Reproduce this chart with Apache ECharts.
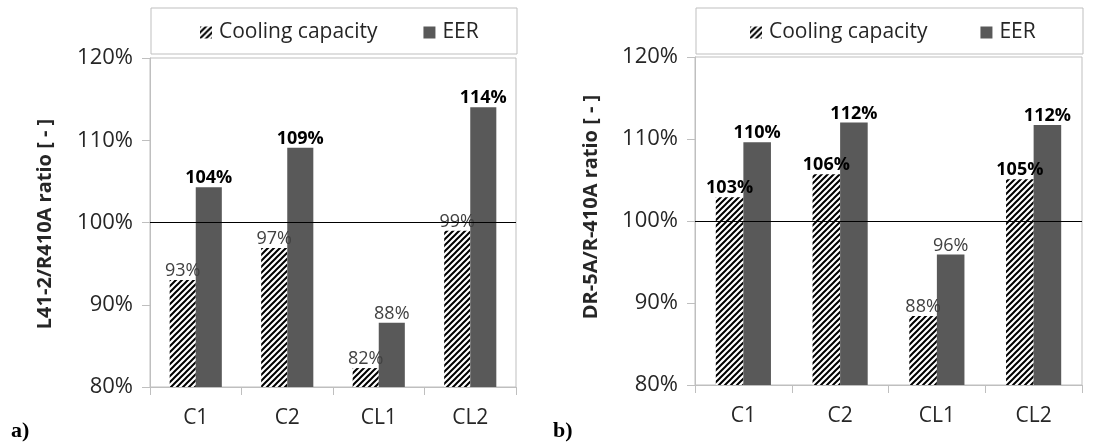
<!DOCTYPE html>
<html>
<head>
<meta charset="utf-8">
<script src="https://cdn.jsdelivr.net/npm/echarts@6/dist/echarts.min.js"></script>
<style>
html,body{margin:0;padding:0;background:#fff;}
#chart{width:1095px;height:442px;}
</style>
</head>
<body>
<div id="chart"></div>
<script>
// ---- data ----
const categories = ['C1', 'C2', 'CL1', 'CL2'];
const seriesNames = ['Cooling capacity', 'EER'];
const coolingA = [93.0, 96.9, 82.3, 99.0];
const eerA = [104.3, 109.1, 87.8, 114.0];
const coolingB = [102.9, 105.7, 88.4, 105.1];
const eerB = [109.6, 112.0, 95.9, 111.7];
const yTicks = [80, 90, 100, 110, 120];
const yTitleA = 'L41-2/R410A ratio [ - ]';
const yTitleB = 'DR-5A/R-410A ratio [ - ]';
const panelLabels = ['a)', 'b)'];
const refLine = 100;

// ---- styles ----
const FONT = 'Open Sans';
const TXT = '#262626';
const GREY = '#bfbfbf';
const EER_COLOR = '#595959';
// which data labels are bold (style, not data)
const boldIdx = {
  coolingA: [], eerA: [0, 1, 3],
  coolingB: [0, 1, 3], eerB: [0, 1, 3]
};

function hatch() {
  const s = 6;
  const c = document.createElement('canvas');
  c.width = s; c.height = s;
  const g = c.getContext('2d');
  g.fillStyle = '#fff'; g.fillRect(0, 0, s, s);
  g.strokeStyle = '#000'; g.lineWidth = 2;
  g.beginPath();
  g.moveTo(-1, s + 1); g.lineTo(s + 1, -1);
  g.moveTo(-1, 1); g.lineTo(1, -1);
  g.moveTo(s - 1, s + 1); g.lineTo(s + 1, s - 1);
  g.stroke();
  return c;
}
const hatchPattern = { image: hatch(), repeat: 'repeat' };

function labelCfg(bolds) {
  return {
    show: true, position: 'top', distance: 0,
    formatter: p => {
      const t = Math.round(p.value) + '%';
      return bolds.indexOf(p.dataIndex) >= 0 ? '{b|' + t + '}' : '{n|' + t + '}';
    },
    rich: {
      b: { fontFamily: FONT, fontSize: 18, fontWeight: 'bold', color: '#000' },
      n: { fontFamily: FONT, fontSize: 18, color: '#404040' }
    }
  };
}

function xAxisCfg(gi) {
  return {
    type: 'category', gridIndex: gi, data: categories,
    axisLine: { show: true, lineStyle: { color: GREY, width: 1 } },
    axisTick: { show: true, length: 8, lineStyle: { color: GREY } },
    axisLabel: { fontFamily: FONT, fontSize: 21, color: TXT, margin: 21 },
    splitLine: { show: false }
  };
}
function yAxisCfg(gi) {
  return {
    type: 'value', gridIndex: gi,
    min: yTicks[0], max: yTicks[yTicks.length - 1], interval: yTicks[1] - yTicks[0],
    axisLine: { show: true, lineStyle: { color: GREY, width: 1 } },
    axisTick: { show: true, length: 8, lineStyle: { color: GREY } },
    axisLabel: { fontFamily: FONT, fontSize: 22, color: TXT, margin: 17, formatter: '{value}%' },
    splitLine: { show: false }
  };
}
function barSeries(name, data, gi, color, bolds, withLine) {
  const s = {
    name: name, type: 'bar', xAxisIndex: gi, yAxisIndex: gi, data: data,
    barGap: '0%', barCategoryGap: '43%',
    itemStyle: { color: color },
    label: labelCfg(bolds),
    emphasis: { disabled: true },
    animation: false
  };
  if (withLine) {
    s.markLine = {
      silent: true, symbol: ['none', 'none'],
      label: { show: false },
      lineStyle: { color: '#000', width: 1, type: 'solid' },
      data: [{ yAxis: refLine }],
      animation: false
    };
  }
  return s;
}
function legendCfg(left, gap) {
  return {
    data: seriesNames, left: left, top: 17, orient: 'horizontal',
    itemWidth: 12, itemHeight: 12, itemGap: gap,
    icon: 'rect', selectedMode: false,
    textStyle: { fontFamily: FONT, fontSize: 21, color: TXT, padding: [0, 0, 0, 2] }
  };
}
function titleText(x, y, text) {
  return {
    type: 'text', x: x, y: y, rotation: Math.PI / 2,
    style: { text: text, fontFamily: FONT, fontSize: 20, fontWeight: 'bold', fill: TXT, align: 'center', verticalAlign: 'middle' }
  };
}

const chart = echarts.init(document.getElementById('chart'), null, { renderer: 'canvas' });
chart.setOption({
  backgroundColor: '#fff',
  animation: false,
  grid: [
    { left: 150, right: 579, top: 58, bottom: 55, show: true, borderColor: GREY, borderWidth: 1, backgroundColor: 'transparent' },
    { left: 695, right: 13, top: 57, bottom: 57, show: true, borderColor: GREY, borderWidth: 1, backgroundColor: 'transparent' }
  ],
  xAxis: [xAxisCfg(0), xAxisCfg(1)],
  yAxis: [yAxisCfg(0), yAxisCfg(1)],
  legend: [legendCfg(195, 46), legendCfg(745, 53)],
  series: [
    barSeries(seriesNames[0], coolingA, 0, hatchPattern, boldIdx.coolingA, false),
    barSeries(seriesNames[1], eerA, 0, EER_COLOR, boldIdx.eerA, true),
    barSeries(seriesNames[0], coolingB, 1, hatchPattern, boldIdx.coolingB, false),
    barSeries(seriesNames[1], eerB, 1, EER_COLOR, boldIdx.eerB, true)
  ],
  graphic: [
    { type: 'rect', z: 0, shape: { x: 151, y: 8, width: 366, height: 46 }, style: { fill: '#fff', stroke: GREY, lineWidth: 1 } },
    { type: 'rect', z: 0, shape: { x: 696, y: 8, width: 387, height: 46 }, style: { fill: '#fff', stroke: GREY, lineWidth: 1 } },
    titleText(45, 224, yTitleA),
    titleText(591, 207, yTitleB),
    { type: 'text', x: 11, y: 431, style: { text: panelLabels[0], fontFamily: 'Liberation Serif', fontSize: 22, fontWeight: 'bold', fill: '#000', align: 'left', verticalAlign: 'middle' } },
    { type: 'text', x: 553, y: 431, style: { text: panelLabels[1], fontFamily: 'Liberation Serif', fontSize: 22, fontWeight: 'bold', fill: '#000', align: 'left', verticalAlign: 'middle' } }
  ]
});
</script>
</body>
</html>
